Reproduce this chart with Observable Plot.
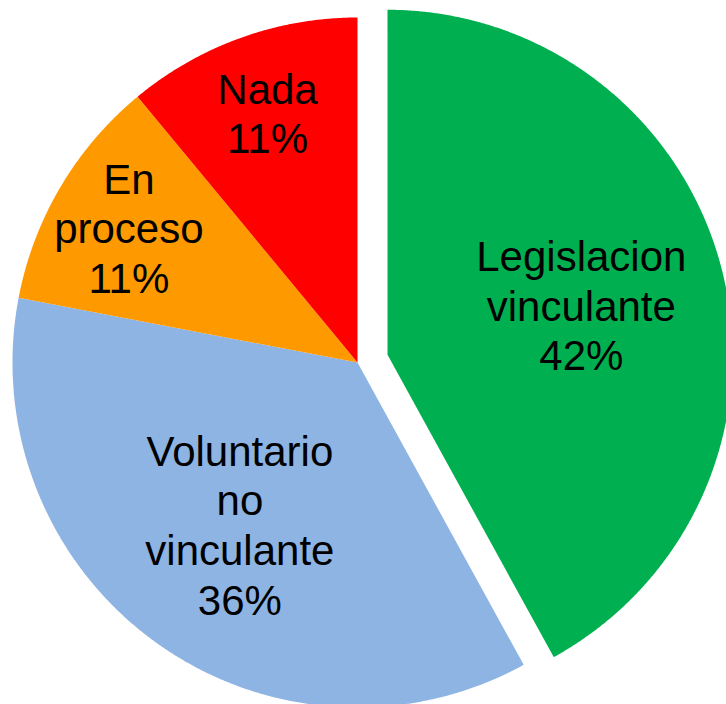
<!DOCTYPE html>
<html>
<head>
<meta charset="utf-8">
<script src="https://cdn.jsdelivr.net/npm/d3@7"></script>
<script src="https://cdn.jsdelivr.net/npm/@observablehq/plot@0.6"></script>
<style>
  html, body { margin: 0; padding: 0; background: #ffffff; }
  #chart svg { display: block; }
</style>
</head>
<body>
<div id="chart"></div>
<script>
// ---- data ----
const categories = ["Legislacion vinculante", "Voluntario no vinculante", "En proceso", "Nada"];
const values = [42, 36, 11, 11];
const colors = ["#00B050", "#8EB4E3", "#FF9900", "#FF0000"];
const explodedCategory = "Legislacion vinculante";

// ---- layout ----
const W = 726, H = 704;
const CX = 357, CY = 362, RPX = 345;   // pie centre and radius in pixels
const explode = 31 / RPX;              // explosion offset in radius units

const total = d3.sum(values);
const slices = [];
let acc = 0;
categories.forEach((c, i) => {
  const a0 = acc / total * 2 * Math.PI;
  acc += values[i];
  const a1 = acc / total * 2 * Math.PI;
  slices.push({cat: c, value: values[i], a0, a1, frac: values[i] / total});
});

// polygon points for every slice (angles clockwise from 12 o'clock)
const pts = [];
for (const s of slices) {
  const mid = (s.a0 + s.a1) / 2;
  const off = s.cat === explodedCategory ? explode : 0;
  const ox = off * Math.sin(mid), oy = off * Math.cos(mid);
  pts.push({cat: s.cat, x: ox, y: oy});
  const n = Math.max(8, Math.ceil((s.a1 - s.a0) / (Math.PI / 720)));
  for (let k = 0; k <= n; k++) {
    const a = s.a0 + (s.a1 - s.a0) * k / n;
    pts.push({cat: s.cat, x: ox + Math.sin(a), y: oy + Math.cos(a)});
  }
}

// labels at the slice mid-angle
const labels = slices.map(s => {
  const mid = (s.a0 + s.a1) / 2;
  const off = s.cat === explodedCategory ? explode : 0;
  const r = s.frac < 0.2 ? 0.77 : 0.58;
  return {
    x: (off + r) * Math.sin(mid),
    y: (off + r) * Math.cos(mid),
    text: s.cat.split(" ").join("\n") + "\n" + Math.round(s.frac * 100) + "%"
  };
});

const chart = Plot.plot({
  width: W,
  height: H,
  margin: 0,
  x: {domain: [-CX / RPX, (W - CX) / RPX], axis: null},
  y: {domain: [-(H - CY) / RPX, CY / RPX], axis: null},
  color: {domain: categories, range: colors},
  style: {background: "#ffffff", overflow: "hidden"},
  marks: [
    Plot.line(pts, {x: "x", y: "y", z: "cat", fill: "cat", stroke: "none", curve: "linear"}),
    Plot.text(labels, {
      x: "x", y: "y", text: "text",
      fontSize: 42, lineHeight: 1.18,
      fontFamily: "'Liberation Sans', Arial, sans-serif",
      fill: "#000000"
    })
  ]
});
document.getElementById("chart").appendChild(chart);
</script>
</body>
</html>
